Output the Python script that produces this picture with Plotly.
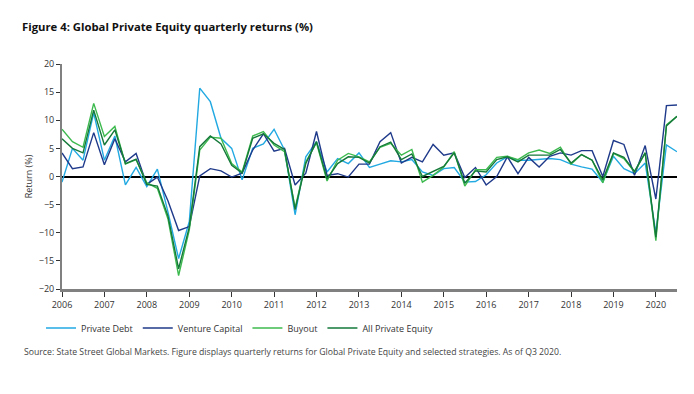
import pandas as pd
import plotly.graph_objects as go

quarters = pd.date_range("2006-01-01", periods=59, freq="QS")

private_debt = [-1.0, 5.0, 2.9, 11.3, 2.9, 7.2, -1.5, 1.6, -1.8, 1.3,
                -6.3, -14.6, -8.0, 15.7, 13.3, 6.8, 5.0, -0.6, 5.0, 5.8,
                8.4, 4.7, -6.8, 3.5, 6.2, 0.8, 3.2, 2.3, 4.2, 1.6,
                2.2, 2.8, 2.6, 3.0, 0.8, 0.2, 1.4, 1.6, -1.0, -0.9,
                0.3, 2.4, 3.5, 2.9, 2.9, 3.0, 3.2, 3.0, 2.2, 1.7,
                1.3, -1.0, 3.6, 1.4, 0.5, 2.4, -10.0, 5.6, 4.4]

venture_capital = [4.2, 1.4, 1.7, 7.8, 2.1, 6.7, 2.6, 4.1, -1.4, -0.1,
                   -4.3, -9.6, -8.9, 0.1, 1.4, 1.0, -0.1, 0.6, 4.7, 7.6,
                   4.5, 5.0, -1.5, 0.6, 8.0, 0.2, 0.5, -0.1, 2.2, 2.2,
                   6.2, 7.8, 2.4, 3.4, 2.6, 5.7, 3.8, 4.2, -0.2, 1.6,
                   -1.5, 0.0, 3.5, 0.5, 3.4, 1.7, 3.6, 4.2, 3.8, 4.6,
                   4.6, 0.0, 6.4, 5.7, 0.2, 5.5, -4.0, 12.6, 12.7]

buyout = [8.4, 6.2, 5.2, 13.0, 7.1, 8.9, 2.2, 3.0, -1.1, -2.1,
          -7.5, -17.6, -9.5, 4.7, 7.0, 6.8, 2.3, 0.8, 7.2, 8.0,
          5.6, 4.4, -5.6, 2.6, 6.0, -0.8, 2.9, 4.1, 3.5, 2.6,
          5.2, 5.9, 3.8, 4.8, -1.0, 0.2, 1.7, 4.4, -1.7, 1.2,
          1.2, 3.4, 3.6, 3.0, 4.2, 4.7, 4.1, 5.2, 2.2, 3.9,
          2.9, -1.1, 4.1, 3.2, 0.8, 4.2, -11.4, 9.2, 10.7]

all_private_equity = [6.7, 5.0, 4.2, 11.8, 5.6, 8.3, 2.3, 3.1, -1.4, -1.7,
                      -7.0, -16.4, -9.0, 5.3, 7.2, 5.8, 2.0, 0.6, 6.8, 7.6,
                      5.9, 4.8, -5.9, 2.3, 6.2, -0.4, 2.3, 3.5, 3.4, 2.4,
                      5.3, 6.1, 3.0, 4.0, 0.0, 0.9, 1.8, 4.2, -1.2, 1.0,
                      0.8, 3.0, 3.5, 2.6, 3.8, 3.8, 3.8, 4.8, 2.4, 3.9,
                      2.9, -0.6, 4.2, 3.4, 0.9, 4.2, -10.8, 9.0, 10.7]

series = [
    ("Private Debt", private_debt, "#22a9e2"),
    ("Venture Capital", venture_capital, "#1f3a8a"),
    ("Buyout", buyout, "#3dba4e"),
    ("All Private Equity", all_private_equity, "#15793a"),
]

FONT = "Open Sans"
W, H = 678, 378
fig = go.Figure()
for name, vals, color in series:
    fig.add_trace(go.Scatter(x=quarters, y=vals, name=name, mode="lines",
                             line=dict(color=color, width=1.4)))

fig.update_layout(
    width=W, height=H,
    paper_bgcolor="white", plot_bgcolor="white",
    margin=dict(l=54, r=9, t=56, b=97, autoexpand=False),
    font=dict(family=FONT, size=9, color="#333333"),
    title=dict(text="<b>Figure 4: Global Private Equity quarterly returns (%)</b>",
               x=14/W, xref="container", xanchor="left",
               y=1-19/H, yref="container", yanchor="middle",
               font=dict(family=FONT, size=11.3, color="#111111")),
    showlegend=True,
    legend=dict(orientation="h", xref="container", yref="container",
                x=33/W, xanchor="left", y=1-320/H, yanchor="middle",
                font=dict(family=FONT, size=9, color="#333333"),
                tracegroupgap=0),
    xaxis=dict(type="date", range=["2006-01-01", "2020-07-01"],
               dtick="M12", tick0="2006-01-01", tickformat="%Y",
               showgrid=False, zeroline=False,
               showline=True, linecolor="#808080", linewidth=3,
               ticks="outside", ticklen=5, tickcolor="#333333", tickwidth=1,
               tickfont=dict(size=9, color="#333333")),
    xaxis2=dict(type="date", overlaying="x", matches="x", anchor="y",
                side="bottom", showticklabels=False, showgrid=False,
                zeroline=False, showline=False,
                dtick="M12", tick0="2006-01-01",
                ticks="inside", ticklen=5, tickcolor="#333333", tickwidth=1),
    yaxis=dict(range=[-20, 20], dtick=5, showgrid=False,
               zeroline=True, zerolinecolor="#000000", zerolinewidth=1.5,
               showline=True, linecolor="#808080", linewidth=2,
               ticks="outside", ticklen=4, tickcolor="#333333", tickwidth=1,
               tickfont=dict(size=9, color="#333333"),
               title=dict(text="Return (%)", font=dict(size=9, color="#333333"),
                          standoff=5)),
    yaxis2=dict(overlaying="y", matches="y", anchor="x", side="left",
                showticklabels=False, showgrid=False, zeroline=False,
                showline=False, dtick=5,
                ticks="inside", ticklen=3, tickcolor="#333333", tickwidth=1),
)

fig.add_annotation(
    text="Source: State Street Global Markets. Figure displays quarterly returns for Global Private Equity and selected strategies. As of Q3 2020.",
    xref="paper", yref="paper", x=(22-62)/615, y=(289-352)/225,
    xanchor="left", yanchor="middle", showarrow=False,
    font=dict(family=FONT, size=8.7, color="#444444"))

fig.write_html("out.html")
